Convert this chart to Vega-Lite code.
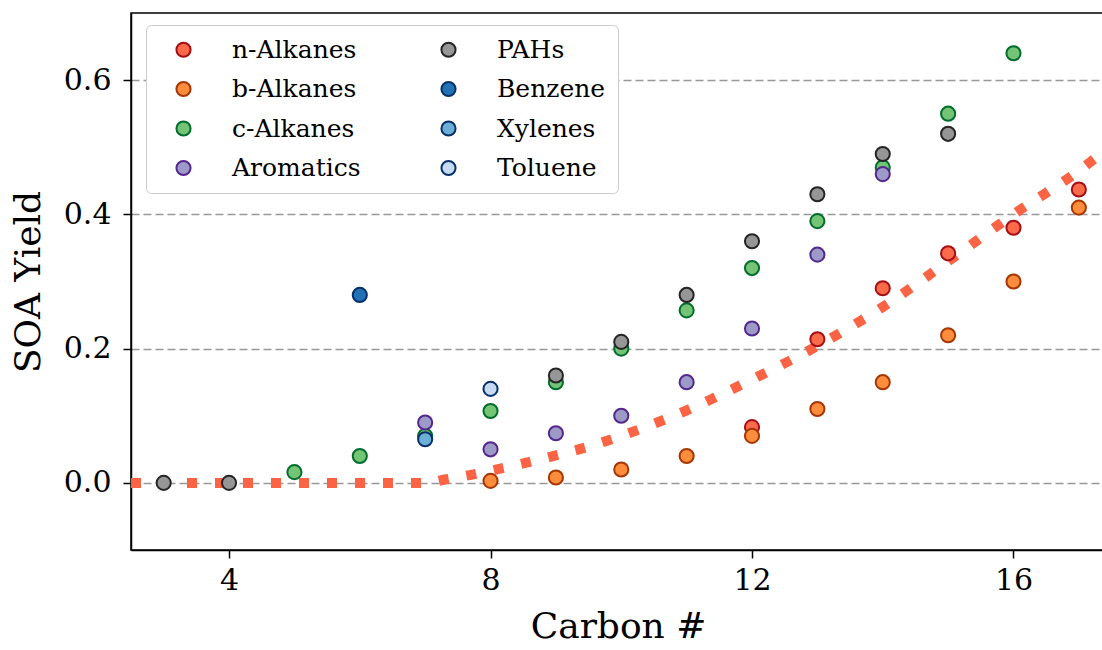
{
  "$schema": "https://vega.github.io/schema/vega-lite/v6.json",
  "autosize": {"type": "none"},
  "width": 974,
  "height": 537,
  "padding": {"left": 131, "top": 13, "right": 0, "bottom": 100},
  "background": "white",
  "config": {
    "font": "DejaVu Serif",
    "view": {"stroke": "black", "strokeWidth": 1.5},
    "axis": {
      "labelFont": "DejaVu Serif", "titleFont": "DejaVu Serif",
      "labelFontSize": 30, "titleFontSize": 36, "titleFontWeight": "normal",
      "labelColor": "black", "titleColor": "black",
      "tickColor": "black", "tickSize": 8, "tickWidth": 1.5,
      "domainColor": "black", "domainWidth": 1.5
    },
    "legend": {
      "labelFont": "DejaVu Serif"
    }
  },
  "layer": [
    {
      "data": {"values": [
        {"c": 2.5, "fit": 0.0},
        {"c": 7.0, "fit": 0.0},
        {"c": 7.3, "fit": 0.005},
        {"c": 7.7, "fit": 0.012},
        {"c": 8.0, "fit": 0.018},
        {"c": 8.5, "fit": 0.029},
        {"c": 9.0, "fit": 0.041},
        {"c": 9.5, "fit": 0.054},
        {"c": 10.0, "fit": 0.07},
        {"c": 11.0, "fit": 0.108},
        {"c": 12.0, "fit": 0.154},
        {"c": 13.0, "fit": 0.204},
        {"c": 14.0, "fit": 0.262},
        {"c": 15.0, "fit": 0.33},
        {"c": 16.0, "fit": 0.40},
        {"c": 17.0, "fit": 0.465},
        {"c": 17.4, "fit": 0.495}
      ]},
      "mark": {"type": "line", "color": "#fa6445", "strokeWidth": 10, "strokeDash": [10, 18], "strokeCap": "butt", "clip": true, "interpolate": "monotone"},
      "encoding": {
        "x": {"field": "c", "type": "quantitative"},
        "y": {"field": "fit", "type": "quantitative"}
      }
    },
    {
      "data": {"values": [
        {"group": "n-Alkanes", "carbon": 12, "yield": 0.083},
        {"group": "n-Alkanes", "carbon": 13, "yield": 0.214},
        {"group": "n-Alkanes", "carbon": 14, "yield": 0.29},
        {"group": "n-Alkanes", "carbon": 15, "yield": 0.342},
        {"group": "n-Alkanes", "carbon": 16, "yield": 0.38},
        {"group": "n-Alkanes", "carbon": 17, "yield": 0.437},
        {"group": "b-Alkanes", "carbon": 8, "yield": 0.003},
        {"group": "b-Alkanes", "carbon": 9, "yield": 0.008},
        {"group": "b-Alkanes", "carbon": 10, "yield": 0.02},
        {"group": "b-Alkanes", "carbon": 11, "yield": 0.04},
        {"group": "b-Alkanes", "carbon": 12, "yield": 0.07},
        {"group": "b-Alkanes", "carbon": 13, "yield": 0.11},
        {"group": "b-Alkanes", "carbon": 14, "yield": 0.15},
        {"group": "b-Alkanes", "carbon": 15, "yield": 0.22},
        {"group": "b-Alkanes", "carbon": 16, "yield": 0.30},
        {"group": "b-Alkanes", "carbon": 17, "yield": 0.41},
        {"group": "c-Alkanes", "carbon": 5, "yield": 0.016},
        {"group": "c-Alkanes", "carbon": 6, "yield": 0.04},
        {"group": "c-Alkanes", "carbon": 7, "yield": 0.07},
        {"group": "c-Alkanes", "carbon": 8, "yield": 0.107},
        {"group": "c-Alkanes", "carbon": 9, "yield": 0.15},
        {"group": "c-Alkanes", "carbon": 10, "yield": 0.20},
        {"group": "c-Alkanes", "carbon": 11, "yield": 0.257},
        {"group": "c-Alkanes", "carbon": 12, "yield": 0.32},
        {"group": "c-Alkanes", "carbon": 13, "yield": 0.39},
        {"group": "c-Alkanes", "carbon": 14, "yield": 0.47},
        {"group": "c-Alkanes", "carbon": 15, "yield": 0.55},
        {"group": "c-Alkanes", "carbon": 16, "yield": 0.64},
        {"group": "Aromatics", "carbon": 7, "yield": 0.09},
        {"group": "Aromatics", "carbon": 8, "yield": 0.05},
        {"group": "Aromatics", "carbon": 9, "yield": 0.074},
        {"group": "Aromatics", "carbon": 10, "yield": 0.10},
        {"group": "Aromatics", "carbon": 11, "yield": 0.15},
        {"group": "Aromatics", "carbon": 12, "yield": 0.23},
        {"group": "Aromatics", "carbon": 13, "yield": 0.34},
        {"group": "Aromatics", "carbon": 14, "yield": 0.46},
        {"group": "PAHs", "carbon": 3, "yield": 0.0},
        {"group": "PAHs", "carbon": 4, "yield": 0.0},
        {"group": "PAHs", "carbon": 9, "yield": 0.16},
        {"group": "PAHs", "carbon": 10, "yield": 0.21},
        {"group": "PAHs", "carbon": 11, "yield": 0.28},
        {"group": "PAHs", "carbon": 12, "yield": 0.36},
        {"group": "PAHs", "carbon": 13, "yield": 0.43},
        {"group": "PAHs", "carbon": 14, "yield": 0.49},
        {"group": "PAHs", "carbon": 15, "yield": 0.52},
        {"group": "Benzene", "carbon": 6, "yield": 0.28},
        {"group": "Xylenes", "carbon": 7, "yield": 0.065},
        {"group": "Toluene", "carbon": 8, "yield": 0.14}
      ]},
      "mark": {"type": "circle", "size": 200, "strokeWidth": 2, "opacity": 1},
      "encoding": {
        "x": {
          "field": "carbon", "type": "quantitative",
          "scale": {"domain": [2.5, 17.4], "nice": false, "zero": false},
          "axis": {"values": [4, 8, 12, 16], "format": "d", "grid": false, "title": "Carbon #", "labelPadding": 7, "titlePadding": 14}
        },
        "y": {
          "field": "yield", "type": "quantitative",
          "scale": {"domain": [-0.1, 0.7], "nice": false, "zero": false},
          "axis": {"values": [0, 0.2, 0.4, 0.6], "format": ".1f", "grid": true, "gridColor": "#999999", "gridDash": [8, 4], "gridWidth": 1.5, "title": "SOA Yield", "labelPadding": 12, "titlePadding": 16}
        },
        "fill": {
          "field": "group", "type": "nominal",
          "scale": {
            "domain": ["n-Alkanes", "b-Alkanes", "c-Alkanes", "Aromatics", "PAHs", "Benzene", "Xylenes", "Toluene"],
            "range": ["#fb6a4a", "#fd8d3c", "#74c476", "#9e9ac8", "#969696", "#2171b5", "#6baed6", "#c6dbef"]
          },
          "legend": {
            "title": null, "orient": "none", "legendX": 15, "legendY": 12, "columns": 2,
            "fillColor": "white", "strokeColor": "#cccccc", "cornerRadius": 5,
            "padding": 12, "labelFontSize": 25, "labelColor": "black", "symbolSize": 200, "symbolStrokeWidth": 2,
            "symbolType": "circle", "symbolOffset": 13, "rowPadding": 13.5, "columnPadding": 62, "labelOffset": 36
          }
        },
        "stroke": {
          "field": "group", "type": "nominal",
          "scale": {
            "domain": ["n-Alkanes", "b-Alkanes", "c-Alkanes", "Aromatics", "PAHs", "Benzene", "Xylenes", "Toluene"],
            "range": ["#a50f15", "#a63603", "#006d2c", "#54278f", "#252525", "#08306b", "#08306b", "#08306b"]
          },
          "legend": {
            "title": null, "orient": "none", "legendX": 15, "legendY": 12, "columns": 2,
            "fillColor": "white", "strokeColor": "#cccccc", "cornerRadius": 5,
            "padding": 12, "labelFontSize": 25, "labelColor": "black", "symbolSize": 200, "symbolStrokeWidth": 2,
            "symbolType": "circle", "symbolOffset": 13, "rowPadding": 13.5, "columnPadding": 62, "labelOffset": 36
          }
        }
      }
    }
  ]
}
